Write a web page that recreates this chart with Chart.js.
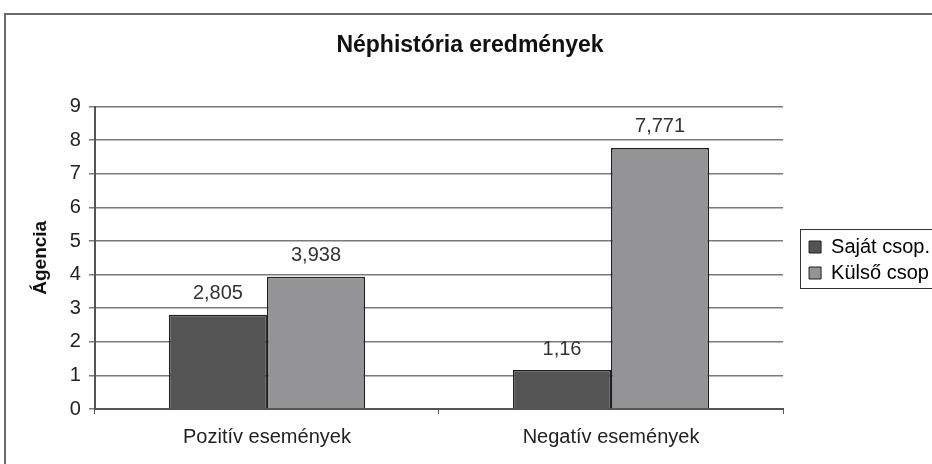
<!DOCTYPE html>
<html>
<head>
<meta charset="utf-8">
<script src="https://cdn.jsdelivr.net/npm/chart.js@4"></script>
<style>
html,body{margin:0;padding:0;background:#fff;overflow:hidden}
#wrap{width:960px;height:464px;position:relative}
</style>
</head>
<body>
<div id="wrap"><canvas id="chart" width="960" height="464"></canvas></div>
<script>
// =============================
// DATA
// =============================
const categories = ["Pozitív események", "Negatív események"]
const seriesNames = ["Saját csop.", "Külső csop"]
const sajatValues = [2.805, 1.16]
const kulsoValues = [3.938, 7.771]
const yTicks = [0, 1, 2, 3, 4, 5, 6, 7, 8, 9]

const FONT = "'Liberation Sans', Arial, sans-serif"
const LEGEND_PAD = 6
const LEGEND_DY = 30

function huNum(v){
return String(v).replace(".", ",")
}

// outer frame, legend shift + frame, value labels
const extras = {
id: "extras",
beforeDraw(chart){
let ctx = chart.ctx
ctx.save()
ctx.fillStyle = "#fff"
ctx.fillRect(0, 0, chart.width, chart.height)
ctx.strokeStyle = "#6a6a6a"
ctx.lineWidth = 2
ctx.strokeRect(5, 14, chart.width + 20, chart.height + 20)
ctx.restore()
},
afterLayout(chart){
// push the legend away from the plot and down to the middle, like the original
let lg = chart.legend
let dx = (chart.chartArea.right + 26) - (lg.left + LEGEND_PAD)
lg.left += dx
lg.right += dx
lg.top += LEGEND_DY
lg.bottom += LEGEND_DY
},
afterDraw(chart){
let ctx = chart.ctx
ctx.save()

// value labels
ctx.font = "20px " + FONT
ctx.fillStyle = "#333"
ctx.textAlign = "center"
ctx.textBaseline = "middle"
chart.data.datasets.forEach((ds, di) => {
let meta = chart.getDatasetMeta(di)
meta.data.forEach((bar, i) => {
ctx.fillText(huNum(ds.data[i]), bar.x, bar.y - 21)
})
})

// legend frame
let lg = chart.legend
let boxes = lg.legendHitBoxes
if(boxes && boxes.length){
let first = boxes[0]
let last = boxes[boxes.length - 1]
let x0 = Math.round(lg.left + LEGEND_PAD) - 8.5
let y0 = Math.round(first.top) - 7.5
let y1 = Math.round(last.top + last.height) + 5.5
ctx.strokeStyle = "#333"
ctx.lineWidth = 1
ctx.strokeRect(x0, y0, 300, y1 - y0)
}
ctx.restore()
}
}

const ctx = document.getElementById("chart").getContext("2d")

new Chart(ctx, {
type: "bar",
data: {
labels: categories,
datasets: [
{
label: seriesNames[0],
data: sajatValues,
backgroundColor: "#545454",
borderColor: "#1e1e1e",
borderWidth: 1.5,
categoryPercentage: 0.57,
barPercentage: 1
},
{
label: seriesNames[1],
data: kulsoValues,
backgroundColor: "#949497",
borderColor: "#1e1e1e",
borderWidth: 1.5,
categoryPercentage: 0.57,
barPercentage: 1
}
]
},
options: {
responsive: false,
animation: false,
events: [],
layout: {
padding: {left: 20, right: 40, top: 0, bottom: 4}
},
plugins: {
title: {
display: true,
text: "Néphistória eredmények",
color: "#111",
font: {family: FONT, size: 23, weight: "bold"},
padding: {top: 32, bottom: 47}
},
legend: {
position: "right",
align: "center",
labels: {
color: "#222",
font: {family: FONT, size: 20},
boxWidth: 12,
boxHeight: 12,
padding: LEGEND_PAD,
generateLabels(chart){
return chart.data.datasets.map((ds, i) => ({
text: ds.label,
fillStyle: ds.backgroundColor,
strokeStyle: "#1e1e1e",
lineWidth: 1,
datasetIndex: i
}))
}
}
},
tooltip: {enabled: false}
},
scales: {
x: {
offset: true,
grid: {
display: true,
offset: true,
drawOnChartArea: false,
drawTicks: true,
tickLength: 5,
color: "#555"
},
border: {color: "#555", width: 2},
ticks: {
color: "#222",
font: {family: FONT, size: 20},
padding: 11
}
},
y: {
min: 0,
max: 9,
afterBuildTicks(scale){
scale.ticks = yTicks.map(v => ({value: v}))
},
grid: {
color: "#7a7a7a",
lineWidth: 1.5,
tickLength: 6
},
border: {color: "#555", width: 2},
ticks: {
color: "#222",
font: {family: FONT, size: 20},
padding: 8
},
title: {
display: true,
text: "Ágencia",
color: "#111",
font: {family: FONT, size: 19, weight: "bold"},
padding: {top: 9, bottom: 10}
}
}
}
},
plugins: [extras]
})
</script>
</body>
</html>
